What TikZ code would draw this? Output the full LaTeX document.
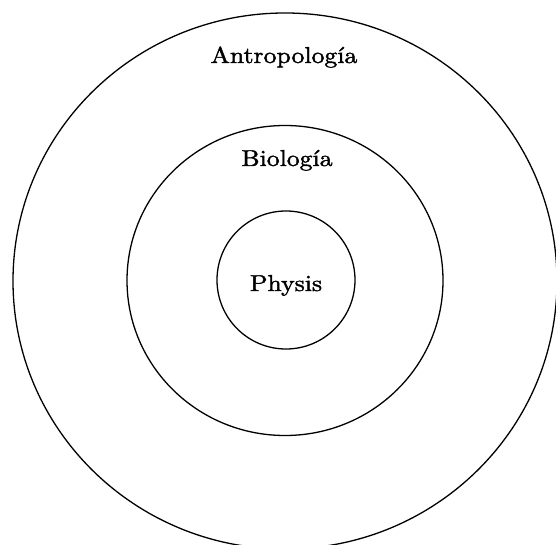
\documentclass[tikz,border=0pt]{standalone}
\usepackage{graphicx}
\usepackage{fontspec}
\newfontfamily\lmten{lmroman10-regular}[Extension=.otf, FakeBold=1.6]
\newcommand{\bigtxt}[1]{\scalebox{2.24}[2.0]{\lmten\fontsize{11.5}{14}\selectfont #1}}
\begin{document}
\begin{tikzpicture}[x=1pt,y=-1pt,
  ring/.style={line width=1.3pt},
  lbl/.style={anchor=base,inner sep=0pt}]
\useasboundingbox (0,0) rectangle (556,545);
\draw[ring] (285,281) ellipse [x radius=272pt, y radius=268pt];
\draw[ring] (285,280.5) ellipse [x radius=158pt, y radius=155pt];
\draw[ring] (286,280) circle [radius=69pt];
\node[lbl] (antro) at (284,63) {\bigtxt{Antropología}};
\node[lbl] (bio) at (287,166) {\bigtxt{Biología}};
\node[lbl] (phys) at (286,291) {\bigtxt{Physis}};
\end{tikzpicture}
\end{document}
